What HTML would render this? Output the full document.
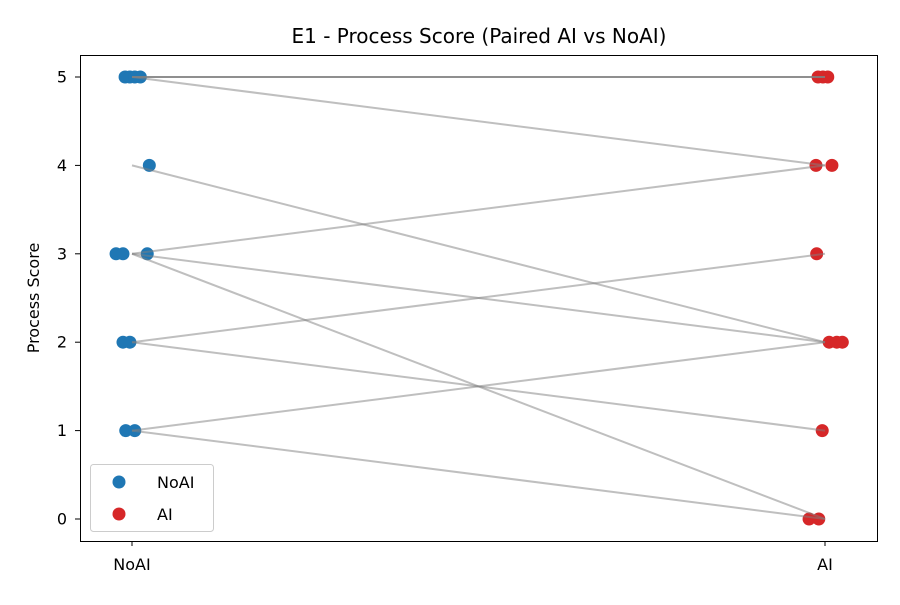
<!DOCTYPE html>
<html><head><meta charset="utf-8"><style>
body{margin:0;background:#fff;}
svg text{font-family:"DejaVu Sans","Liberation Sans",sans-serif;fill:#000;}
</style></head><body>
<svg id="chart" width="900" height="600" xmlns="http://www.w3.org/2000/svg">
<rect x="0" y="0" width="900" height="600" fill="#fff"/>
<text x="479" y="43" font-size="20" text-anchor="middle">E1 - Process Score (Paired AI vs NoAI)</text>
<text x="0" y="0" font-size="16" text-anchor="middle" transform="translate(39,298) rotate(-90)">Process Score</text>
<g id="pts"></g>
<g id="lines"></g>
<rect x="80.5" y="55.5" width="797" height="486" fill="none" stroke="#000" stroke-width="1"/>
<g id="axes"></g>
<g>
<rect x="90.5" y="464.5" width="123" height="67" rx="3" fill="#fff" fill-opacity="0.8" stroke="#ccc"/>
<g><circle cx="119" cy="482" r="6.5" fill="#1f77b4"/><text x="157" y="488" font-size="16">NoAI</text></g>
<g><circle cx="119" cy="514" r="6.5" fill="#d62728"/><text x="157" y="520" font-size="16">AI</text></g>
</g>
</svg>
<script>
const categories = ["NoAI","AI"];
const yTicks = [0,1,2,3,4,5];
const noaiScores = [5,5,5,5,4,3,3,3,2,2,1,1];
const aiScores   = [5,5,5,4,2,4,2,0,3,1,2,0];
const noaiJitter = [-0.010,-0.003,0.012,0.004,0.025,-0.023,-0.013,0.022,-0.013,-0.003,-0.009,0.004];
const aiJitter   = [-0.010,-0.003,0.004,-0.013,0.006,0.010,0.017,-0.023,-0.012,-0.004,0.025,-0.009];

const NS="http://www.w3.org/2000/svg";
const xs = v => 132 + v*693;
const ys = v => 519 - v*88.4;
function mk(tag, attrs, parent){const e=document.createElementNS(NS,tag);for(const k in attrs)e.setAttribute(k,attrs[k]);parent.appendChild(e);return e;}
const L=document.getElementById('lines'), P=document.getElementById('pts'), A=document.getElementById('axes');

noaiScores.forEach((v,i)=>{
  const l=mk('line',{x1:xs(0),y1:ys(v),x2:xs(1),y2:ys(aiScores[i]),stroke:'#808080','stroke-opacity':0.5,'stroke-width':2},L);
  
  
});
noaiScores.forEach((v,i)=>{
  const c=mk('circle',{cx:xs(0+noaiJitter[i]),cy:ys(v),r:6.5,fill:'#1f77b4'},P);
  
  
});
aiScores.forEach((v,i)=>{
  const c=mk('circle',{cx:xs(1+aiJitter[i]),cy:ys(v),r:6.5,fill:'#d62728'},P);
  
  
});
yTicks.forEach(t=>{
  const y=ys(t);
  const tk=mk('line',{x1:75,x2:80,y1:y,y2:y,stroke:'#000'},A);
  
  
  const tx=mk('text',{x:67,y:y+5.5,'font-size':16,'text-anchor':'end'},A);
  tx.textContent=t;
  
  
});
categories.forEach((c,i)=>{
  const x=xs(i);
  const tk=mk('line',{x1:x,x2:x,y1:541,y2:546,stroke:'#000'},A);
  
  
  const tx=mk('text',{x:x,y:570,'font-size':16,'text-anchor':'middle'},A);
  tx.textContent=c;
  
  
});
</script>
</body></html>
